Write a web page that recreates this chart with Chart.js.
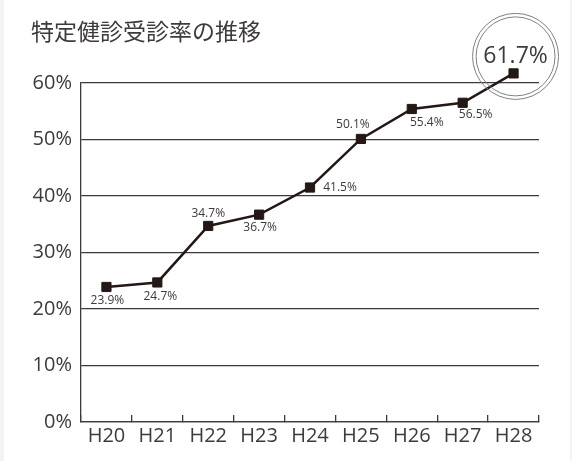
<!DOCTYPE html>
<html lang="ja">
<head>
<meta charset="utf-8">
<script src="https://cdn.jsdelivr.net/npm/chart.js@4/dist/chart.umd.min.js"></script>
<style>
  html, body { margin: 0; padding: 0; background: #f3f3f3; }
  #panel { position: absolute; left: 4px; top: 0; width: 566px; height: 461px; background: #fff; }
  #title { position: absolute; left: 31px; top: 19px; font: 23px/23px "Noto Sans CJK JP", sans-serif; color: #3e3a39; white-space: nowrap; }
  #chart { position: absolute; left: 0; top: 0; }
</style>
</head>
<body>
<div id="panel"></div>
<canvas id="chart" width="572" height="461"></canvas>
<div id="title">特定健診受診率の推移</div>
<script>
const years = ["H20", "H21", "H22", "H23", "H24", "H25", "H26", "H27", "H28"];
const rates = [23.9, 24.7, 34.7, 36.7, 41.5, 50.1, 55.4, 56.5, 61.7];
const yTicks = [0, 10, 20, 30, 40, 50, 60];

// where each value label sits relative to its point (px)
const labelOffsets = [[1, 14], [3, 14], [0, -12.5], [1, 13], [30, 0], [-8, -14], [15, 13.5], [13, 12], [2, -17]];

const ink = "#231815";
const grey = "#3e3a39";

const valueLabels = {
    id: "valueLabels",
    afterDatasetsDraw(chart) {
        const ctx = chart.ctx;
        const points = chart.getDatasetMeta(0).data;
        const area = chart.chartArea;
        ctx.save();
        ctx.textAlign = "center";
        ctx.textBaseline = "middle";
        points.forEach((pt, i) => {
            // markers above the plot area get skipped by chart.js, draw them here
            if (pt.y < area.top) pt.draw(ctx);
            const [dx, dy] = labelOffsets[i];
            const x = pt.x + dx, y = pt.y + dy;
            const text = rates[i].toFixed(1) + "%";
            if (i === points.length - 1) {
                ctx.strokeStyle = "#808080";
                ctx.lineWidth = 1;
                ctx.beginPath();
                ctx.arc(x, y, 43, 0, Math.PI * 2);
                ctx.stroke();
                ctx.beginPath();
                ctx.arc(x, y, 39.5, 0, Math.PI * 2);
                ctx.stroke();
                ctx.font = "23px 'Open Sans'";
                ctx.fillStyle = grey;
                ctx.fillText(text, x, y);
            } else {
                ctx.font = "12px 'Open Sans'";
                ctx.fillStyle = grey;
                ctx.fillText(text, x, y);
            }
        });
        ctx.restore();
    }
};

new Chart(document.getElementById("chart"), {
    type: "line",
    data: {
        labels: years,
        datasets: [{
            data: rates,
            borderColor: ink,
            borderWidth: 2.5,
            backgroundColor: ink,
            pointStyle: "rect",
            pointRadius: 6.5,
            pointBorderWidth: 1,
            pointBorderColor: ink,
            tension: 0,
            clip: false
        }]
    },
    options: {
        responsive: false,
        animation: false,
        layout: { padding: { left: 20, right: 33, top: 83, bottom: 0 } },
        plugins: { legend: { display: false }, tooltip: { enabled: false } },
        scales: {
            x: {
                offset: true,
                grid: { offset: true, drawOnChartArea: false, drawTicks: true, tickLength: -7, color: grey, lineWidth: 1.3 },
                border: { display: true, color: grey, width: 1.3 },
                ticks: { color: grey, font: { family: "Open Sans", size: 20 }, padding: 9, maxRotation: 0 },
                afterFit(scale) { scale.height = 39; }
            },
            y: {
                min: 0,
                max: 60,
                afterBuildTicks(scale) { scale.ticks = yTicks.map(v => ({ value: v })); },
                grid: { drawTicks: false, color: grey, lineWidth: 1.3 },
                border: { display: true, color: grey, width: 1.3 },
                ticks: { color: grey, font: { family: "Open Sans", size: 20 }, padding: 9, callback: v => v + "%" },
                afterFit(scale) { scale.width = 61; }
            }
        }
    },
    plugins: [valueLabels]
});
</script>
</body>
</html>
